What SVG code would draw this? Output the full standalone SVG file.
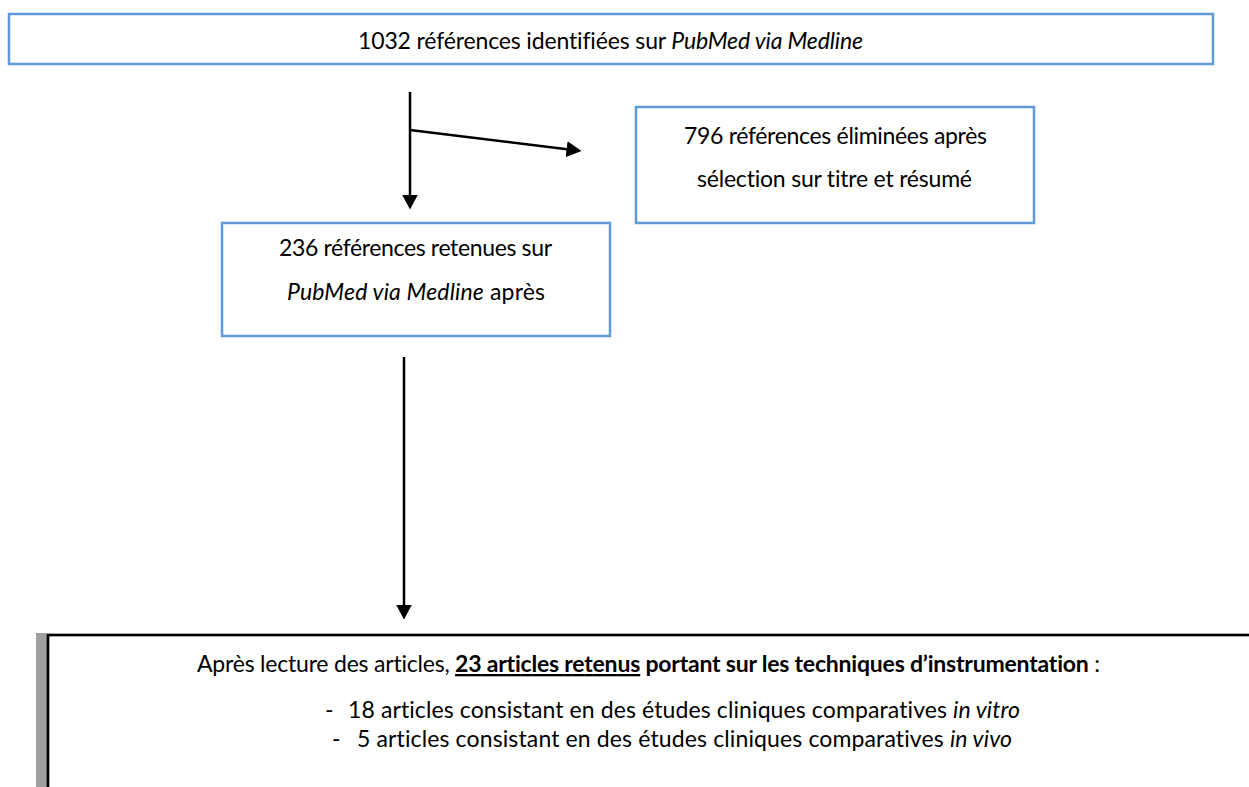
<svg xmlns="http://www.w3.org/2000/svg" width="1249" height="787" viewBox="0 0 1249 787">
  <style>
    .box { fill: #ffffff; stroke: #5f9bd6; stroke-width: 2.5; }
    .t { font-family: Lato, "Open Sans", "Liberation Sans", sans-serif; font-size: 23px; fill: #000000; font-variant-ligatures: none; }
    .it { font-style: italic; }
    .b { font-weight: bold; }
    .u { text-decoration: underline; }
    .conn { stroke: #000000; stroke-width: 2.5; fill: none; marker-end: url(#arrow); }
  </style>
  <defs>
    <marker id="arrow" markerUnits="userSpaceOnUse" markerWidth="17" markerHeight="17" refX="0.5" refY="8" orient="auto">
      <path d="M0,0 L15,8 L0,16 z" fill="#000000"/>
    </marker>
  </defs>
  <rect width="1249" height="787" fill="#ffffff"/>

  <g id="node-identified">
    <rect class="box" x="9" y="14" width="1204" height="50"/>
    <text class="t" x="358" y="49" textLength="505">1032 références identifiées sur <tspan class="it">PubMed via Medline</tspan></text>
  </g>

  <g id="node-eliminated">
    <rect class="box" x="636" y="107" width="398" height="116"/>
    <text class="t" x="684" y="144" textLength="303">796 références éliminées après</text>
    <text class="t" x="697" y="187" textLength="275">sélection sur titre et résumé</text>
  </g>

  <g id="node-retained">
    <rect class="box" x="222" y="223" width="388" height="113"/>
    <text class="t" x="279" y="256" textLength="273">236 références retenues sur</text>
    <text class="t" x="287" y="300" textLength="258"><tspan class="it">PubMed via Medline</tspan> après</text>
  </g>

  <g id="node-articles">
    <rect x="36" y="633" width="11" height="160" fill="#a0a0a0"/>
    <rect x="48" y="635" width="1300" height="300" fill="#ffffff" stroke="#000000" stroke-width="2.7"/>
    <text class="t" x="197" y="672" textLength="903">Après lecture des articles, <tspan class="b u">23 articles retenus</tspan><tspan class="b"> portant sur les techniques d’instrumentation</tspan> :</text>
    <text class="t" x="325" y="718">-</text>
    <text class="t" x="348" y="718" textLength="672">18 articles consistant en des études cliniques comparatives <tspan class="it">in vitro</tspan></text>
    <text class="t" x="332" y="747">-</text>
    <text class="t" x="357" y="747" textLength="655">5 articles consistant en des études cliniques comparatives <tspan class="it">in vivo</tspan></text>
  </g>

  <g id="connectors">
    <line class="conn" x1="410" y1="92" x2="410" y2="195"/>
    <line class="conn" x1="410" y1="130" x2="567.1" y2="149.2"/>
    <line class="conn" x1="404" y1="357" x2="404" y2="605"/>
  </g>
</svg>
